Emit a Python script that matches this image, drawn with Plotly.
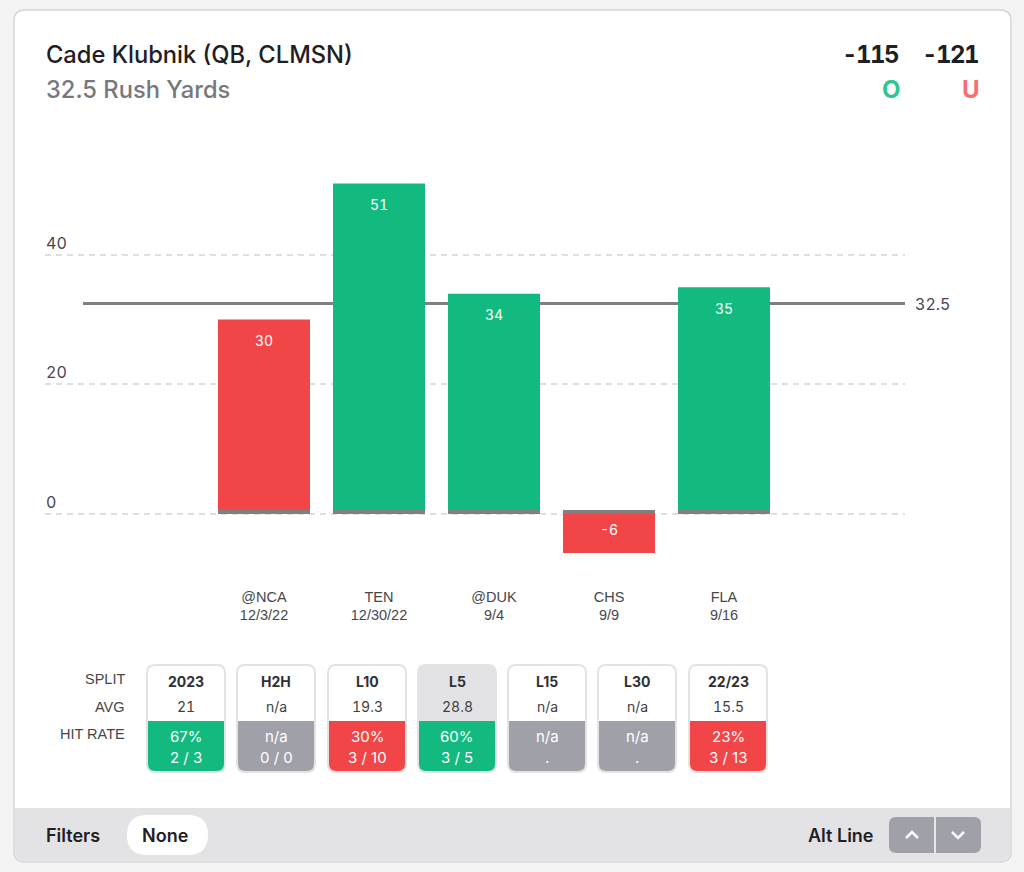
import plotly.graph_objects as go

W, H = 1024, 872

# chart data
opponents = ["@NCA", "TEN", "@DUK", "CHS", "FLA"]
dates = ["12/3/22", "12/30/22", "9/4", "9/9", "9/16"]
rush_yards = [30, 51, 34, -6, 35]
baseline_marks = [0.6, 0.6, 0.6, 0.6, 0.6]
prop_line = 32.5
y_ticks = [0, 20, 40]

# split table data
splits = ["2023", "H2H", "L10", "L5", "L15", "L30", "22/23"]
averages = ["21", "n/a", "19.3", "28.8", "n/a", "n/a", "15.5"]
hit_pcts = ["67%", "n/a", "30%", "60%", "n/a", "n/a", "23%"]
hit_counts = ["2 / 3", "0 / 0", "3 / 10", "3 / 5", ".", ".", "3 / 13"]

GREEN = "#12ba80"
RED = "#f24548"
GREY = "#a0a1a8"
FOOTER = "#e3e3e5"
INK = "#1f2024"
SANS = "Inter, sans-serif"
HELV = "Liberation Sans, Arial, sans-serif"

card_left = [147, 237, 328, 418, 508, 598, 689]
card_width = 78


def px(x):
    return x / W


def py(y):
    return 1 - y / H


# the reference uses tabular figures
def tnum(text, spacing=0):
    return f"<span style=\"font-feature-settings:'tnum';letter-spacing:{spacing}px\">{text}</span>"


# rounded rect in paper coords, corners can be switched off for the split cells
def rounded(x0, y0, x1, y1, r, top=True, bottom=True):
    rt = r if top else 0
    rb = r if bottom else 0
    rx = lambda v: px(v)
    ry = lambda v: py(v)
    return (
        f"M {rx(x0 + rt)} {ry(y0)} L {rx(x1 - rt)} {ry(y0)} "
        f"Q {rx(x1)} {ry(y0)} {rx(x1)} {ry(y0 + rt)} "
        f"L {rx(x1)} {ry(y1 - rb)} Q {rx(x1)} {ry(y1)} {rx(x1 - rb)} {ry(y1)} "
        f"L {rx(x0 + rb)} {ry(y1)} Q {rx(x0)} {ry(y1)} {rx(x0)} {ry(y1 - rb)} "
        f"L {rx(x0)} {ry(y0 + rt)} Q {rx(x0)} {ry(y0)} {rx(x0 + rt)} {ry(y0)} Z"
    )


shapes = []
annotations = []


def box(x0, y0, x1, y1, r, fill, line=None, lw=0, top=True, bottom=True):
    shapes.append(dict(
        type="path", xref="paper", yref="paper", layer="below",
        path=rounded(x0, y0, x1, y1, r, top, bottom),
        fillcolor=fill, line=dict(color=line or fill, width=lw),
    ))


def label(x, y, text, size, color, weight=400, anchor="center", family=SANS):
    annotations.append(dict(
        xref="paper", yref="paper", x=px(x), y=py(y), text=text, showarrow=False,
        xanchor=anchor, yanchor="middle", borderpad=0, align=anchor,
        font=dict(family=family, size=size, color=color, weight=weight),
    ))


# card and footer
box(14, 10, 1011, 862, 11, "white", "#d6d6d6", 1.5)
box(15, 808, 1010, 861, 10, FOOTER, top=False)

# header
label(45, 54, "Cade Klubnik (QB, CLMSN)", 23.7, INK, 500, "left")
label(45, 89, "32.5 Rush Yards", 23.7, "#77787c", 500, "left")
label(900, 54, tnum("-115", -1.5), 24, INK, 700, "right")
label(979, 54, tnum("-121", -1.5), 24, INK, 700, "right")
label(902, 89, "O", 24, "#2ec68f", 700, "right")
label(981, 89, "U", 24, "#f96d70", 700, "right")

# prop line sits under the bars
shapes.append(dict(
    type="line", xref="paper", yref="y", layer="below",
    x0=px(83), x1=px(905), y0=prop_line, y1=prop_line,
    line=dict(color="#808084", width=3),
))
annotations.append(dict(
    xref="paper", yref="y", x=px(913), y=prop_line, text=tnum(str(prop_line)), showarrow=False,
    xanchor="left", yanchor="middle", yshift=-1,
    font=dict(family=SANS, size=16, color="#46474b"),
))

# y tick labels stand on top of the gridlines
for t in y_ticks:
    annotations.append(dict(
        xref="paper", yref="y", x=px(44), y=t, text=tnum(str(t)), showarrow=False,
        xanchor="left", yanchor="middle", yshift=12,
        font=dict(family=SANS, size=16, color="#46474b"),
    ))

# values inside the bars
for name, v in zip(opponents, rush_yards):
    annotations.append(dict(
        xref="x", yref="y", x=name, y=v, text=tnum(str(v)), showarrow=False,
        yanchor="middle", yshift=-21 if v > 0 else 23,
        font=dict(family=SANS, size=14, color="white"),
    ))

# split table
label(126, 679, "SPLIT", 14.5, "#46474b", anchor="right", family=HELV)
label(126, 707, "AVG", 14.5, "#46474b", anchor="right", family=HELV)
label(126, 734, "HIT RATE", 14.5, "#46474b", anchor="right", family=HELV)

for i, split in enumerate(splits):
    x0 = card_left[i]
    x1 = x0 + card_width
    mid = (x0 + x1) / 2
    selected = split == "L5"
    if hit_pcts[i] == "n/a":
        fill = GREY
    else:
        fill = GREEN if int(hit_pcts[i][:-1]) >= 50 else RED
    box(x0, 665, x1, 772, 8, FOOTER if selected else "white", FOOTER, 2)
    box(x0 + 1, 721, x1 - 1, 771, 7, fill, top=False)
    label(mid, 681, split, 14, "#2f3034", 700)
    label(mid, 706, tnum(averages[i]), 14, "#3f4044")
    label(mid, 736, hit_pcts[i], 15, "white")
    label(mid, 757, hit_counts[i], 15, "white")

# footer controls
label(45, 835, "Filters", 18, INK, 600, "left")
box(127, 815, 208, 855, 20, "white")
label(165, 835, "None", 18, INK, 600)
label(875, 835, "Alt Line", 18, INK, 600, "right")
box(889, 817, 981, 853, 7, GREY)
shapes.append(dict(type="line", xref="paper", yref="paper", layer="below",
                   x0=px(935), x1=px(935), y0=py(817), y1=py(853),
                   line=dict(color="white", width=1.5)))
for cx, sign in [(912, -1), (958, 1)]:
    shapes.append(dict(
        type="path", xref="paper", yref="paper", layer="below",
        path=f"M {px(cx - 6)} {py(835 - sign * 3)} L {px(cx)} {py(835 + sign * 3)} L {px(cx + 6)} {py(835 - sign * 3)}",
        line=dict(color="white", width=2.5),
    ))

fig = go.Figure()
fig.add_trace(go.Bar(
    x=opponents, y=rush_yards, width=0.8,
    marker=dict(color=[GREEN if v > prop_line else RED for v in rush_yards], line=dict(width=0)),
))
fig.add_trace(go.Bar(
    x=opponents, y=baseline_marks, width=0.8,
    marker=dict(color="#808084", line=dict(width=0)),
))

fig.update_layout(
    width=W, height=H,
    margin=dict(l=0, r=0, t=0, b=0),
    paper_bgcolor="#f3f3f3",
    plot_bgcolor="rgba(0,0,0,0)",
    barmode="overlay",
    showlegend=False,
    hovermode=False,
    shapes=shapes,
    annotations=annotations,
    xaxis=dict(
        domain=[px(45), px(905)],
        type="category",
        categoryorder="array", categoryarray=opponents,
        range=[(45 - 264) / 115, (905 - 264) / 115],
        tickvals=opponents,
        ticktext=[f"{o}<br>{d}" for o, d in zip(opponents, dates)],
        tickfont=dict(family=HELV, size=14.5, color="#46474b"),
        ticklabelstandoff=26,
        showgrid=False, zeroline=False, showline=False, ticks="",
    ),
    yaxis=dict(
        domain=[py(560), py(130)],
        range=[(514 - 560) / 6.48, (514 - 130) / 6.48],
        tickvals=y_ticks,
        showticklabels=False,
        showgrid=True, gridcolor="#dfdfe1", gridwidth=1.5, griddash="6px,5px",
        zeroline=False, showline=False, ticks="",
    ),
)

# the page's default body margin would push the figure 8px off
fig.write_html("out.html", config=dict(displayModeBar=False),
               post_script="document.body.style.margin='0';document.body.style.overflow='hidden';")
